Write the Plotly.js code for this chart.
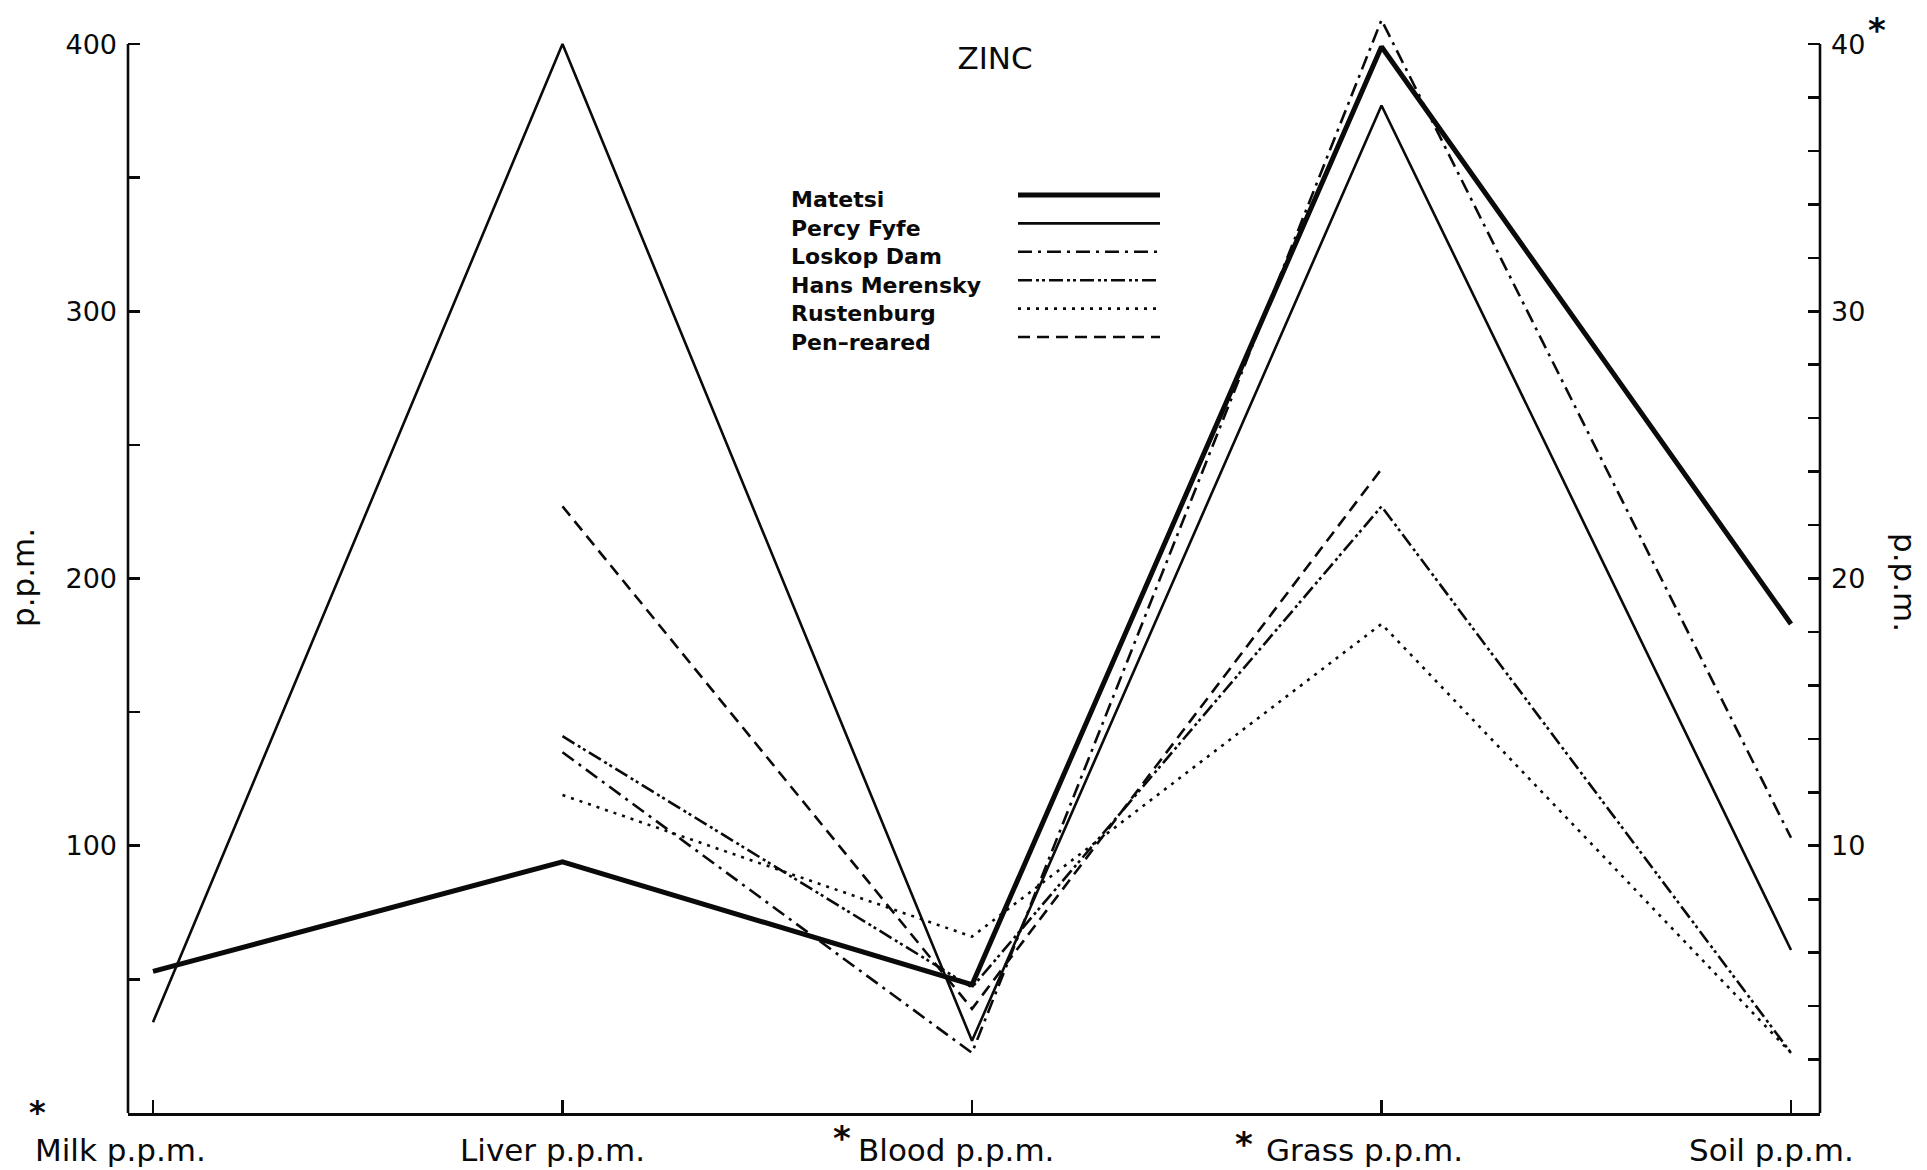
<!DOCTYPE html>
<html><head><meta charset="utf-8">
<script src="https://cdn.plot.ly/plotly-3.0.1.min.js"></script>
<style>html,body{margin:0;padding:0;background:#fff}#chart{width:1927px;height:1170px}</style>
</head><body><div id="chart"></div>
<script>
// ---------- data ----------
const categories = ['Milk p.p.m.', 'Liver p.p.m.', 'Blood p.p.m.', 'Grass p.p.m.', 'Soil p.p.m.'];
const starred = [true, false, true, true, false];   // * = read on the right-hand scale
const seriesNames = ['Matetsi', 'Percy Fyfe', 'Loskop Dam', 'Hans Merensky', 'Rustenburg', 'Pen\u2013reared'];
const matetsi      = [5.3, 94, 4.8, 39.9, 183];
const percyFyfe    = [3.4, 400, 2.7, 37.7, 61];
const loskopDam    = [null, 135, 2.25, 40.9, 103];
const hansMerensky = [null, 141, 4.7, 22.7, 22.5];
const rustenburg   = [null, 119, 6.6, 18.3, 22.5];
const penReared    = [null, 227, 3.9, 24.1, null];
const leftTickVals  = [50, 100, 150, 200, 250, 300, 350, 400];
const leftTickText  = ['', '100', '', '200', '', '300', '', '400'];
const rightTickVals = [2,4,6,8,10,12,14,16,18,20,22,24,26,28,30,32,34,36,38,40];
const rightTickText = ['','','','','10','','','','','20','','','','','30','','','','','40'];
const chartTitle = 'ZINC';
const axisTitle = 'p.p.m.';
const rightScaleFactor = 10; // right scale 40 = left scale 400

// ---------- styles / geometry ----------
const FONT = 'DejaVu Sans, Verdana, sans-serif';
const INK = '#0a0a0a';
const styles = [
  {width: 5,   dash: 'solid'},
  {width: 2.6, dash: 'solid'},
  {width: 2.6, dash: '14px,6px,3px,6px'},
  {width: 2.6, dash: '14px,4px,3px,3px,3px,4px'},
  {width: 2.6, dash: '3px,6px'},
  {width: 2.6, dash: '12px,7px'}
];
const allSeries = [matetsi, percyFyfe, loskopDam, hansMerensky, rustenburg, penReared];

const PL = 128, PR = 1820, PT = 12, PB = 1113, WIDTH = 1927, HEIGHT = 1170;
const pw = PR - PL, ph = PB - PT;
const px = x => (x - PL) / pw;
const py = y => (PB - y) / ph;

const traces = allSeries.map((vals, i) => ({
  type: 'scatter', mode: 'lines', name: seriesNames[i],
  x: categories,
  y: vals.map((v, k) => v == null ? null : (starred[k] ? v * rightScaleFactor : v)),
  line: {color: INK, width: styles[i].width, dash: styles[i].dash},
  connectgaps: false, showlegend: false, hoverinfo: 'skip'
}));
// carrier for the right-hand axis
traces.push({type: 'scatter', mode: 'lines', x: [categories[0]], y: [null], yaxis: 'y2',
  showlegend: false, hoverinfo: 'skip'});

const annotations = [];
const shapes = [];

// category labels (with asterisks)
const labelShift = [-33, -10, -16, -17, -20];
categories.forEach((c, i) => {
  annotations.push({xref: 'x', yref: 'paper', x: c, y: py(1150), xshift: labelShift[i],
    xanchor: 'center', yanchor: 'middle', showarrow: false, text: c,
    font: {family: FONT, size: 31, color: INK}});
});
const starPos = [[37, 1112, 32], null, [842, 1138, 34], [1244, 1144, 34], null];
starred.forEach((s, i) => {
  if (s && starPos[i]) annotations.push({xref: 'paper', yref: 'paper', x: px(starPos[i][0]), y: py(starPos[i][1]),
    xanchor: 'center', yanchor: 'middle', showarrow: false, text: '*',
    font: {family: FONT, size: starPos[i][2], color: INK, weight: 'bold'}});
});
// asterisk on right scale
annotations.push({xref: 'paper', yref: 'paper', x: px(1877), y: py(30), xanchor: 'center', yanchor: 'middle',
  showarrow: false, text: '*', font: {family: FONT, size: 34, color: INK, weight: 'bold'}});
// axis titles
annotations.push({xref: 'paper', yref: 'paper', x: px(23), y: py(578), xanchor: 'center', yanchor: 'middle',
  showarrow: false, text: axisTitle, textangle: -90, font: {family: FONT, size: 31, color: INK}});
annotations.push({xref: 'paper', yref: 'paper', x: px(1905), y: py(582), xanchor: 'center', yanchor: 'middle',
  showarrow: false, text: axisTitle, textangle: 90, font: {family: FONT, size: 31, color: INK}});

// legend (name left, sample line right)
seriesNames.forEach((n, i) => {
  const ty = 200 + i * 28.4;
  annotations.push({xref: 'paper', yref: 'paper', x: px(789), y: py(ty), xanchor: 'left', yanchor: 'middle',
    showarrow: false, text: n, font: {family: FONT, size: 22, color: INK, weight: 'bold'}});
  shapes.push({type: 'line', xref: 'paper', yref: 'paper', x0: px(1018), x1: px(1160), y0: py(ty - 5), y1: py(ty - 5),
    line: {color: INK, width: styles[i].width, dash: styles[i].dash}});
});

// vertical axis lines ending at the top tick
shapes.push({type: 'line', xref: 'paper', yref: 'y', x0: 0, x1: 0, y0: 0, y1: 400, line: {color: INK, width: 2.6}});
shapes.push({type: 'line', xref: 'paper', yref: 'y', x0: 1, x1: 1, y0: 0, y1: 400, line: {color: INK, width: 2.6}});

const layout = {
  width: WIDTH, height: HEIGHT, autosize: false,
  paper_bgcolor: '#fff', plot_bgcolor: '#fff',
  margin: {l: PL, r: WIDTH - PR, t: PT, b: HEIGHT - PB, pad: 0},
  font: {family: FONT, color: INK},
  title: {text: chartTitle, font: {family: FONT, size: 31, color: INK},
    xref: 'paper', x: px(995), xanchor: 'center', yref: 'container', y: 1 - 58 / HEIGHT, yanchor: 'middle'},
  xaxis: {type: 'category', categoryorder: 'array', categoryarray: categories,
    range: [(PL - 153) / 409.5, 4 + (PR - 1791) / 409.5],
    showline: true, linewidth: 3, linecolor: INK, showgrid: false, zeroline: false,
    ticks: 'inside', ticklen: 13, tickwidth: 2.6, tickcolor: INK, showticklabels: false},
  yaxis: {range: [0, 412], showline: false, showgrid: false, zeroline: false,
    tickmode: 'array', tickvals: leftTickVals, ticktext: leftTickText,
    ticks: 'inside', ticklen: 12, tickwidth: 2.6, tickcolor: INK, ticklabelstandoff: 10,
    tickfont: {family: FONT, size: 27, color: INK}},
  yaxis2: {overlaying: 'y', side: 'right', range: [0, 41.2], showline: false, showgrid: false, zeroline: false,
    tickmode: 'array', tickvals: rightTickVals, ticktext: rightTickText,
    ticks: 'inside', ticklen: 12, tickwidth: 2.6, tickcolor: INK, ticklabelstandoff: 10,
    tickfont: {family: FONT, size: 27, color: INK}},
  showlegend: false,
  annotations: annotations,
  shapes: shapes
};

Plotly.newPlot('chart', traces, layout, {staticPlot: true, displayModeBar: false});
</script>
</body></html>
